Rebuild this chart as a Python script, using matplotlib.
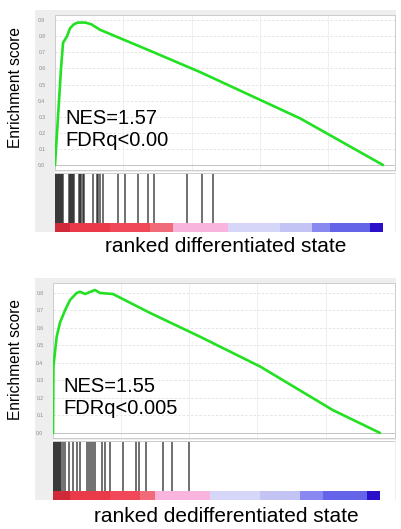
import matplotlib
matplotlib.use("Agg")
import matplotlib.pyplot as plt
from matplotlib.patches import Rectangle

plt.rcParams['font.family'] = ['Liberation Sans', 'DejaVu Sans']

W, H = 401, 529
N_GENES = 24000

# ---- panel 1: differentiated state ----
es1_rank = [0, 220, 440, 590, 880, 1100, 1390, 1680, 2200, 2640, 3300, 6950, 10600, 17930, 24000]
es1_val = [0.0, 0.30, 0.60, 0.76, 0.80, 0.85, 0.875, 0.885, 0.885, 0.875, 0.84, 0.71, 0.578, 0.29, 0.0]
hits1 = [20, 90, 160, 230, 300, 370, 440, 520, 590,
         1020, 1100, 1170, 1240, 1320, 1390,
         1760, 1830, 1900, 2050, 2120,
         2780, 3070, 3150, 3290, 3510,
         4610, 5120, 6070, 6800, 7240, 9660, 10750, 11560]
bar1_edges = [0, 1100, 4030, 6950, 8640, 12660, 16470, 18810, 20120, 23050, 24000]
nes1 = "NES=1.57"
fdr1 = "FDRq<0.00"
xlabel1 = "ranked differentiated state"
yticks1 = [0.0, 0.1, 0.2, 0.3, 0.4, 0.5, 0.6, 0.7, 0.8, 0.9]

# ---- panel 2: dedifferentiated state ----
es2_rank = [0, 30, 270, 510, 880, 1250, 1740, 1980, 2350, 3080, 3450, 4400, 7120, 10790, 15190, 20550, 24000]
es2_val = [0.0, 0.38, 0.55, 0.63, 0.70, 0.76, 0.80, 0.807, 0.794, 0.817, 0.80, 0.794, 0.686, 0.55, 0.38, 0.13, 0.0]
hits2 = [30, 100, 180, 250, 330, 400, 470, 550, 620, 700,
         880, 1170, 1470, 1760, 1980,
         2500, 2640, 2790, 2940, 3080,
         3600, 3820, 4180, 5140, 6090, 6310, 6830, 8070, 8730, 9980]
bar2_edges = [0, 1250, 4180, 6390, 7490, 11520, 15190, 18130, 19820, 23050, 24000]
nes2 = "NES=1.55"
fdr2 = "FDRq<0.005"
xlabel2 = "ranked dedifferentiated state"
yticks2 = [0.0, 0.1, 0.2, 0.3, 0.4, 0.5, 0.6, 0.7, 0.8]

bar_colors = ['#d02a3a', '#ea3a4a', '#f04858', '#f06a78', '#f8b4dc',
              '#d6d6f8', '#c4c4f4', '#8888f0', '#6464e8', '#2a10c8']

fig = plt.figure(figsize=(W / 100, H / 100), dpi=100)


def box(x0, y0, x1, y1):
    return [x0 / W, 1 - y1 / H, (x1 - x0) / W, (y1 - y0) / H]


def bg(x0, y0, x1, y1, color):
    fig.add_artist(Rectangle((x0 / W, 1 - y1 / H), (x1 - x0) / W, (y1 - y0) / H,
                             transform=fig.transFigure, facecolor=color,
                             edgecolor='none', zorder=0))


def panel(ytop, es_left, end_px, es_rank, es_val, hits, edges, yticks, ylim, zero_px,
          nes, fdr, xlabel, ylab_center, xlab_y):
    bg(35, ytop - 5, 396, zero_px + 67, '#eeeeee')
    xmax = N_GENES * (395 - es_left) / (end_px - es_left)
    # ES axes
    ax = fig.add_axes(box(es_left, ytop, 395, zero_px + 5))
    ax.set_xlim(0, xmax)
    ax.set_ylim(*ylim)
    ax.set_facecolor('white')
    ax.set_yticks(yticks)
    ax.set_yticklabels([f"{t:.1f}" for t in yticks], fontsize=3.6, color='#888888')
    ax.tick_params(axis='y', length=0, pad=7)
    ax.set_xticks([5000, 10000, 15000, 20000])
    ax.tick_params(axis='x', length=0, labelbottom=False)
    for t in yticks:
        ax.axhline(t, color='#e2e2e2', lw=0.6, ls=(0, (3, 2)), zorder=1)
    for t in [5000, 10000, 15000, 20000]:
        ax.axvline(t, color='#ececec', lw=0.6, zorder=1)
    ax.axhline(0, color='#bbbbbb', lw=0.6, zorder=1)
    for s in ax.spines.values():
        s.set_color('#cccccc')
        s.set_linewidth(0.7)
    ax.plot(es_rank, es_val, color='#22e022', lw=1.9, zorder=3,
            solid_joinstyle='round', solid_capstyle='round')
    ax.text(0.03, 0.30, nes, transform=ax.transAxes, fontsize=14.5, color='black',
            va='baseline', ha='left')
    ax.text(0.03, 0.30 - 23 / (zero_px + 5 - ytop), fdr, transform=ax.transAxes,
            fontsize=14.5, color='black', va='baseline', ha='left')
    # barcode axes
    bx = fig.add_axes(box(es_left, zero_px + 7, 395, zero_px + 67))
    bx.set_xlim(0, xmax)
    bx.set_ylim(0, 60)
    bx.set_facecolor('white')
    bx.set_xticks([])
    bx.set_yticks([])
    for s in bx.spines.values():
        s.set_visible(False)
    bx.vlines(hits, 9, 59, color='#111111', lw=1.2, alpha=0.7)
    for i, c in enumerate(bar_colors):
        bx.add_patch(Rectangle((edges[i], 0), edges[i + 1] - edges[i], 9,
                               facecolor=c, edgecolor='none'))
    bx.axhline(59.5, color='#cccccc', lw=0.7)
    fig.text(16 / W, 1 - ylab_center / H, "Enrichment score", rotation=90,
             fontsize=11.2, ha='center', va='center')
    fig.text(226 / W, 1 - xlab_y / H, xlabel, fontsize=15, ha='center', va='center')


panel(15, 55, 383, es1_rank, es1_val, hits1, bar1_edges, yticks1, (-0.031, 0.932), 165,
      nes1, fdr1, xlabel1, 87, 246)
panel(283, 53, 380, es2_rank, es2_val, hits2, bar2_edges, yticks2, (-0.029, 0.857), 433,
      nes2, fdr2, xlabel2, 359, 516)

fig.savefig("out.png", dpi=100)
